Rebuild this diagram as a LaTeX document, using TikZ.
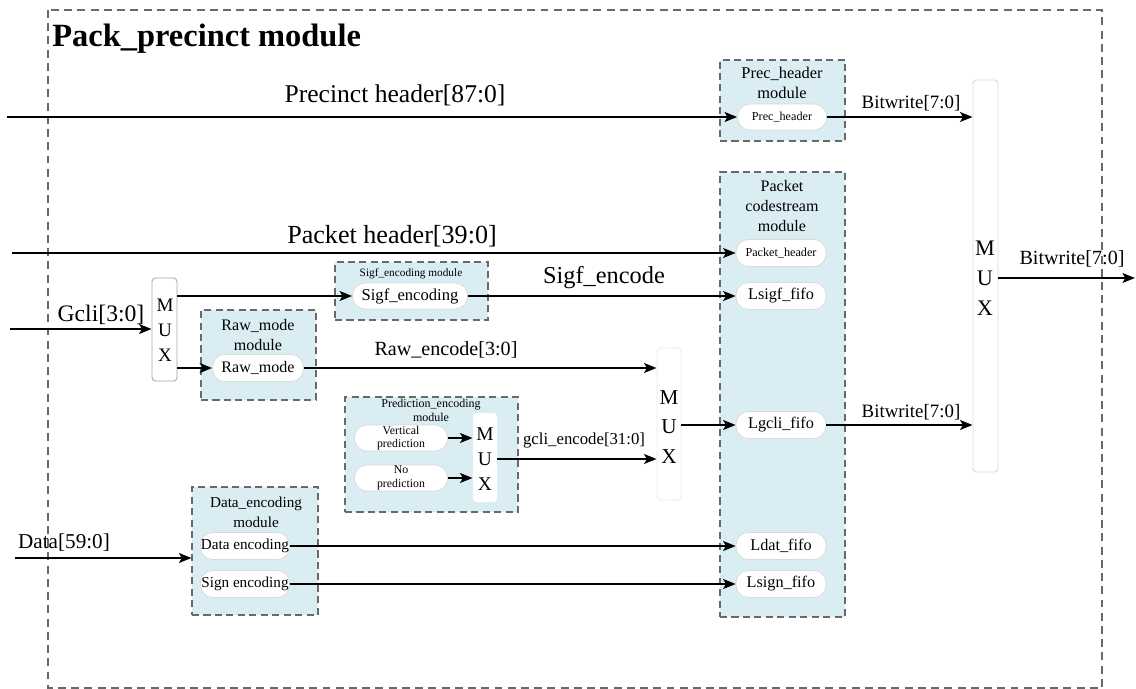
\documentclass[tikz,border=0pt]{standalone}
\usepackage{fontspec}
\setmainfont{Liberation Serif}
\usetikzlibrary{arrows.meta,fit}
\definecolor{modfill}{RGB}{218,237,243}
\definecolor{framegray}{RGB}{105,105,105}

\begin{document}
\begin{tikzpicture}[x=0.5669pt,y=-0.5669pt,
  frame/.style={draw=framegray, dash pattern=on 4.5pt off 3pt, line width=0.6pt},
  modbox/.style={draw=framegray, fill=modfill, dash pattern=on 4pt off 2.5pt, line width=0.6pt, inner sep=0pt},
  pill/.style={draw=black!15, fill=white, rounded corners=7pt, inner sep=0pt, line width=0.4pt, align=center},
  muxbox/.style={inner sep=0pt, rounded corners=2pt, line width=0.5pt, fill=white},
  muxtxt/.style={inner sep=0pt, align=center},
  sig/.style={line width=1.6pt, -{Stealth[length=7pt,width=5.5pt,inset=1.5pt]}},
  lbl/.style={inner sep=0pt, align=center}
]
% page size
\useasboundingbox (0,0) rectangle (1136,689);

% outer module frame and its title
\draw[frame] (48,10) rectangle (1102,688);
\node[inner sep=0pt, anchor=base west, font=\fontsize{18.4pt}{22pt}\selectfont\bfseries] (title) at (52,47) {Pack\_precinct module};

% ---------- sub-module boxes ----------
\node[modbox, fit={(720,60) (845,141)}] (precmod) {};
\node[lbl, font=\fontsize{9.3pt}{11.3pt}\selectfont] (precmodt) at (782,83) {Prec\_header\\module};

\node[modbox, fit={(720,172) (845,617)}] (pktmod) {};
\node[lbl, font=\fontsize{9.1pt}{11.2pt}\selectfont] (pktmodt) at (782,206) {Packet\\codestream\\module};

\node[modbox, fit={(335,262) (488,320)}] (sigfmod) {};
\node[lbl, font=\fontsize{6.4pt}{7.5pt}\selectfont] (sigfmodt) at (411,274) {Sigf\_encoding module};

\node[modbox, fit={(201,310) (316,400)}] (rawmod) {};
\node[lbl, font=\fontsize{9.1pt}{11.2pt}\selectfont] (rawmodt) at (258,335) {Raw\_mode\\module};

\node[modbox, fit={(345,397) (518,512)}] (predmod) {};
\node[lbl, font=\fontsize{6.8pt}{8pt}\selectfont] (predmodt) at (431,410) {Prediction\_encoding\\module};

\node[modbox, fit={(192,487) (318,615)}] (datamod) {};
\node[lbl, font=\fontsize{8.6pt}{11.2pt}\selectfont] (datamodt) at (256,512) {Data\_encoding\\module};

% ---------- rounded blocks ----------
\node[pill, minimum width=50.5pt, minimum height=14.7pt, font=\fontsize{6.9pt}{8pt}\selectfont] (prec) at (782,117) {Prec\_header};

\node[pill, minimum width=51pt, minimum height=15.3pt, font=\fontsize{6.9pt}{8pt}\selectfont] (ph) at (781,253) {Packet\_header};
\node[pill, minimum width=51pt, minimum height=15.3pt, font=\fontsize{9.2pt}{11pt}\selectfont] (lsigf) at (781,296) {Lsigf\_fifo};
\node[pill, minimum width=51pt, minimum height=15.3pt, font=\fontsize{9.2pt}{11pt}\selectfont] (lgcli) at (781,425) {Lgcli\_fifo};
\node[pill, minimum width=51pt, minimum height=15.3pt, font=\fontsize{9.2pt}{11pt}\selectfont] (ldat) at (781,546) {Ldat\_fifo};
\node[pill, minimum width=51pt, minimum height=15.3pt, font=\fontsize{9.2pt}{11pt}\selectfont] (lsign) at (781,584) {Lsign\_fifo};

\node[pill, minimum width=65.2pt, minimum height=14.7pt, font=\fontsize{9.4pt}{11pt}\selectfont] (sigf) at (410,296) {Sigf\_encoding};
\node[pill, minimum width=51.6pt, minimum height=15.3pt, font=\fontsize{9.1pt}{11pt}\selectfont] (raw) at (258,368) {Raw\_mode};

\node[pill, minimum width=52.7pt, minimum height=14.7pt, font=\fontsize{6.7pt}{7.6pt}\selectfont] (vert) at (401,438) {Vertical\\prediction};
\node[pill, minimum width=52.7pt, minimum height=14.7pt, font=\fontsize{6.7pt}{7.6pt}\selectfont] (nopred) at (401,478) {No\\prediction};

\node[pill, minimum width=50.5pt, minimum height=15.3pt, font=\fontsize{8.6pt}{10pt}\selectfont] (dataenc) at (245,546) {Data encoding};
\node[pill, minimum width=50.5pt, minimum height=15.3pt, font=\fontsize{8.6pt}{10pt}\selectfont] (signenc) at (245,584) {Sign encoding};

% ---------- multiplexers ----------
\node[muxbox, draw=black!35, fit={(152,278) (177,381)}] (mux1) {};
\node[muxtxt, font=\fontsize{10.8pt}{14.2pt}\selectfont] (mux1t) at (165,330) {M\\U\\X};

\node[muxbox, fit={(473,413) (497,502)}] (mux2) {};
\node[muxtxt, font=\fontsize{11pt}{14pt}\selectfont] (mux2t) at (485,459) {M\\U\\X};

\node[muxbox, draw=black!8, fit={(657,348) (681,500)}] (mux3) {};
\node[muxtxt, font=\fontsize{12pt}{16.8pt}\selectfont] (mux3t) at (669,427) {M\\U\\X};

\node[muxbox, draw=black!15, fit={(973,80) (998,472)}] (mux4) {};
\node[muxtxt, font=\fontsize{12.6pt}{17pt}\selectfont] (mux4t) at (985,278) {M\\U\\X};

% ---------- inputs and free ends ----------
\coordinate (inprec) at (7,117);
\coordinate (inpkt) at (12,253);
\coordinate (ingcli) at (10,329);
\coordinate (indata) at (15,558);
\coordinate (outbw) at (1135,278);
\coordinate (m1top) at (177,296);
\coordinate (m1bot) at (177,368);

% ---------- connectors ----------
\draw[sig] (inprec) -- (prec.west);
\draw[sig] (prec.east) -- (mux4.west |- prec.east);
\draw[sig] (lgcli.east) -- (mux4.west |- lgcli.east);
\draw[sig] (mux4.east |- outbw) -- (outbw);

\draw[sig] (inpkt) -- (ph.west);
\draw[sig] (ingcli) -- (mux1.west |- ingcli);
\draw[sig] (m1top) -- (sigf.west);
\draw[sig] (m1bot) -- (raw.west);
\draw[sig] (sigf.east) -- (lsigf.west);
\draw[sig] (raw.east) -- (mux3.west |- raw.east);

\draw[sig] (vert.east) -- (mux2.west |- vert.east);
\draw[sig] (nopred.east) -- (mux2.west |- nopred.east);
\draw[sig] (mux2.east |- mux2t) -- (mux3.west |- mux2t);
\draw[sig] (mux3.east |- lgcli.west) -- (lgcli.west);

\draw[sig] (indata) -- (datamod.west |- indata);
\draw[sig] (dataenc.east) -- (ldat.west);
\draw[sig] (signenc.east) -- (lsign.west);

% ---------- signal labels ----------
\node[lbl, font=\fontsize{14.5pt}{17pt}\selectfont] (lprec) at (395,95) {Precinct header[87:0]};
\node[lbl, font=\fontsize{10.7pt}{13pt}\selectfont] (lbw1) at (911,103) {Bitwrite[7:0]};
\node[lbl, font=\fontsize{10.7pt}{13pt}\selectfont] (lbw2) at (911,412) {Bitwrite[7:0]};
\node[lbl, font=\fontsize{11.4pt}{13pt}\selectfont] (lbw3) at (1072,259) {Bitwrite[7:0]};
\node[lbl, font=\fontsize{14.8pt}{17pt}\selectfont] (lpkt) at (392,236) {Packet header[39:0]};
\node[lbl, font=\fontsize{13.4pt}{16pt}\selectfont] (lgcliin) at (101,315) {Gcli[3:0]};
\node[lbl, font=\fontsize{13.8pt}{16pt}\selectfont] (lsigfenc) at (604,278) {Sigf\_encode};
\node[lbl, font=\fontsize{11.4pt}{13pt}\selectfont] (lraw) at (446,350) {Raw\_encode[3:0]};
\node[lbl, font=\fontsize{9.5pt}{11pt}\selectfont] (lgclienc) at (584,440) {gcli\_encode[31:0]};
\node[lbl, font=\fontsize{12pt}{14pt}\selectfont] (ldata) at (64,543) {Data[59:0]};
\end{tikzpicture}
\end{document}
